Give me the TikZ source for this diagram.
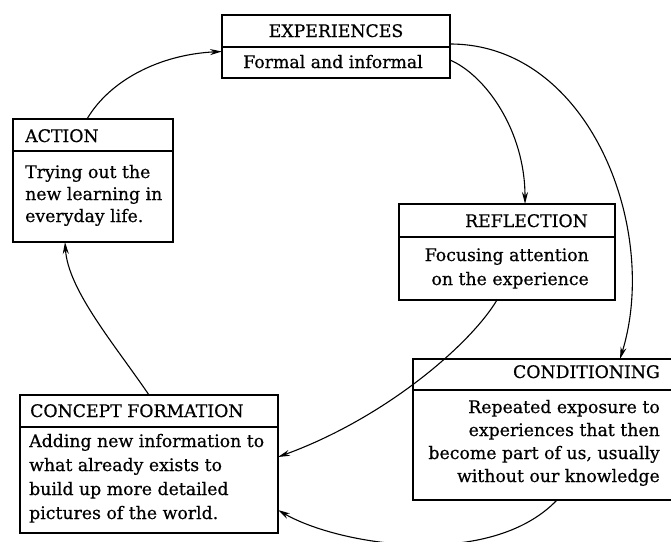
\documentclass[tikz,border=0pt]{standalone}
\usepackage{fontspec}
\setmainfont{DejaVu Serif}[FakeBold=0.6]
\usetikzlibrary{arrows.meta,calc}
\begin{document}
\begin{tikzpicture}[x=1pt,y=-1pt,
  box/.style={draw,line width=1.3pt,rectangle,inner sep=0pt,outer sep=0pt,anchor=north west},
  divider/.style={line width=1.3pt},
  txt/.style={inner sep=0pt,font=\fontsize{17.3}{23}\selectfont},
  conn/.style={line width=1.1pt,-{Stealth[length=12pt,width=6pt]}}]
\useasboundingbox (0,0) rectangle (671,541);
\clip (0,0) rectangle (671,541);
% boxes
\node[box,minimum width=228pt,minimum height=63pt] (exp) at (222,15) {};
\node[box,minimum width=160pt,minimum height=123pt] (action) at (13,119) {};
\node[box,minimum width=216pt,minimum height=96pt] (refl) at (399,204) {};
\node[box,minimum width=270pt,minimum height=141pt] (cond) at (413,359) {};
\node[box,minimum width=258pt,minimum height=138pt] (concept) at (20,395) {};
% dividers
\draw[divider] (exp.west |- 0,47) -- (exp.east |- 0,47);
\draw[divider] (action.west |- 0,151) -- (action.east |- 0,151);
\draw[divider] (refl.west |- 0,237) -- (refl.east |- 0,237);
\draw[divider] (cond.west |- 0,390) -- (cond.east |- 0,390);
\draw[divider] (concept.west |- 0,427) -- (concept.east |- 0,427);
% texts (base anchor of a multi-line node = baseline of its last line)
\node[txt,anchor=base] (expT) at (336,37) {EXPERIENCES};
\node[txt,anchor=base] (expB) at (333,68) {Formal and informal};
\node[txt,anchor=base west] (actT) at (25,142) {ACTION};
\node[txt,anchor=base west,align=left,font=\fontsize{17.3}{22}\selectfont] (actB) at (25,222) {Trying out the\\new learning in\\everyday life.};
\node[txt,anchor=base east] (refT) at (588,227) {REFLECTION};
\node[txt,anchor=base east,align=right,font=\fontsize{17.3}{24}\selectfont] (refB) at (589,285) {Focusing attention\\on the experience};
\node[txt,anchor=base east] (conT) at (660,378) {CONDITIONING};
\node[txt,anchor=base east,align=right] (conB) at (660,482) {Repeated exposure to\\experiences that then\\become part of us, usually\\without our knowledge};
\node[txt,anchor=base west] (cfT) at (30,417) {CONCEPT FORMATION};
\node[txt,anchor=base west,align=left,font=\fontsize{17.3}{24}\selectfont] (cfB) at (29,519) {Adding new information to\\what already exists to\\build up more detailed\\pictures of the world.};
% connectors
\draw[conn] ($(action.north west)+(74,0)$) .. controls +(23,-39) and +(-62,3) .. ($(exp.west)+(0,5)$);
\draw[conn] ($(exp.east)+(0,13.5)$) .. controls +(35,15) and +(0,-74) .. ($(refl.north)+(18,0)$);
\draw[conn] ($(exp.east)+(0,-2.5)$) .. controls +(140,0) and +(40,-129) .. ($(cond.north west)+(207,0)$);
\draw[conn] ($(refl.south west)+(98,0)$) .. controls +(-27,45) and +(107,-39) .. ($(concept.east)+(0,-7)$);
\draw[conn] ($(cond.south west)+(144,0)$) .. controls +(-67,70) and +(60,35) .. ($(concept.east)+(0,46)$);
\draw[conn] (concept.north) .. controls +(-34,-50) and +(3,48) .. ($(action.south west)+(52,0)$);
\end{tikzpicture}
\end{document}
